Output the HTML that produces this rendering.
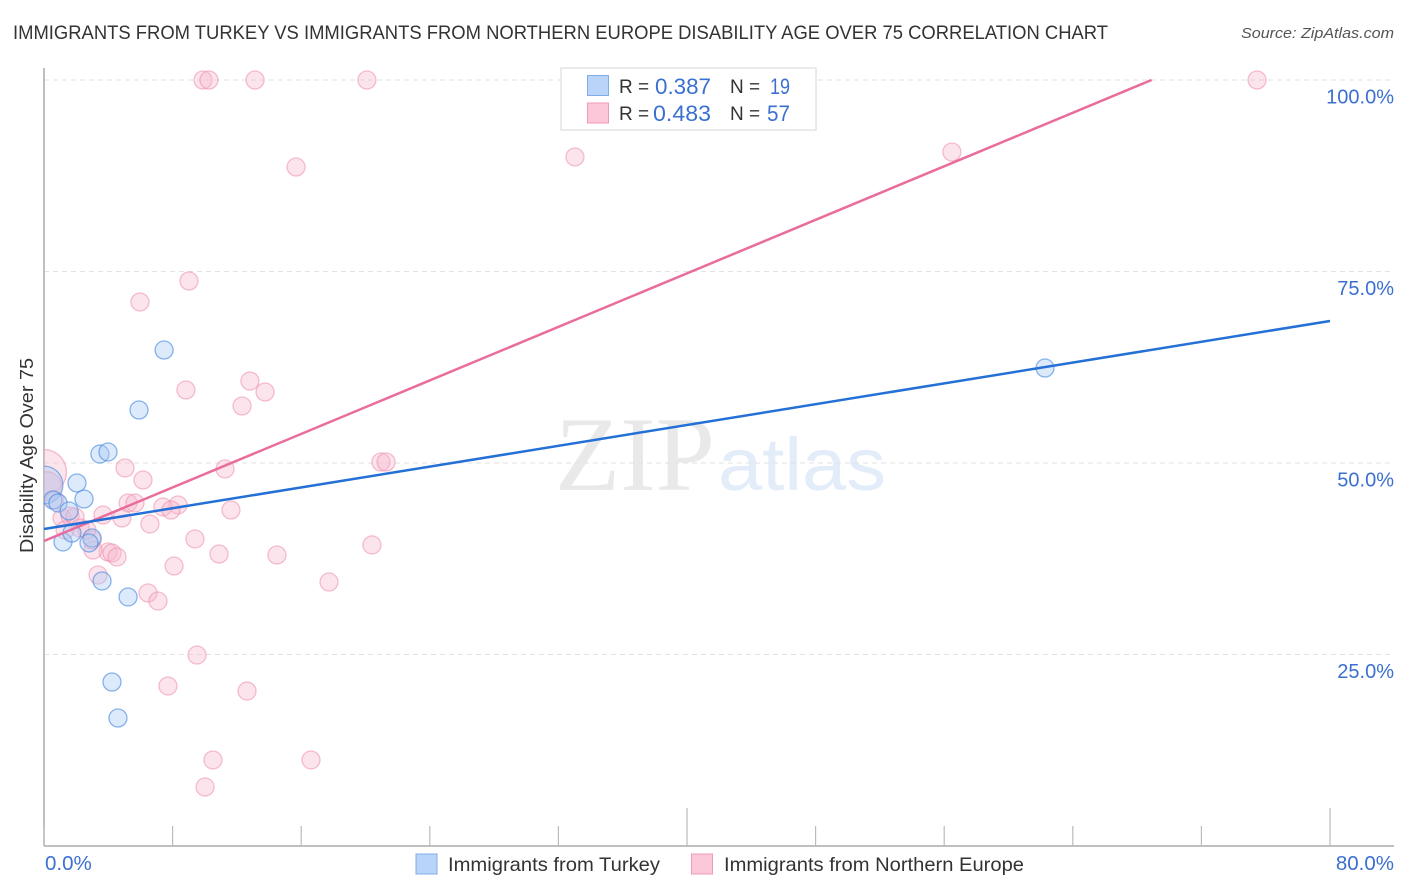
<!DOCTYPE html>
<html lang="en">
<head>
<meta charset="utf-8">
<title>Immigrants from Turkey vs Immigrants from Northern Europe Disability Age Over 75 Correlation Chart</title>
<style>
html,body{margin:0;padding:0;background:#fff;width:1406px;height:892px;overflow:hidden}
svg{display:block;font-family:"Liberation Sans",sans-serif}
</style>
</head>
<body>
<svg id="chart" xmlns="http://www.w3.org/2000/svg" width="1406" height="892" viewBox="0 0 1406 892">
<defs><clipPath id="plot-clip"><rect x="44" y="0" width="1350" height="846"/></clipPath></defs>
<rect width="1406" height="892" fill="#fff"/>
<text x="13" y="39" font-size="19" fill="#333" textLength="1095" lengthAdjust="spacingAndGlyphs">IMMIGRANTS FROM TURKEY VS IMMIGRANTS FROM NORTHERN EUROPE DISABILITY AGE OVER 75 CORRELATION CHART</text>
<text x="1241" y="38" font-size="15" font-style="italic" fill="#555" textLength="153" lengthAdjust="spacingAndGlyphs">Source: ZipAtlas.com</text>
<g>
<text x="555" y="490" font-family="'Liberation Serif',serif" font-size="106" fill="#e9e9e9" textLength="160" lengthAdjust="spacingAndGlyphs">ZIP</text>
<text x="718" y="490" font-size="74" fill="#e3ecf9" textLength="168" lengthAdjust="spacingAndGlyphs">atlas</text>
</g>
<g id="grid"></g>
<g id="axes"></g>
<g id="points" clip-path="url(#plot-clip)"></g>
<g id="trends"></g>
<text transform="translate(33,553) rotate(-90)" font-size="18" fill="#333" textLength="195" lengthAdjust="spacingAndGlyphs">Disability Age Over 75</text>
<g>
<rect x="561" y="68" width="255" height="62" fill="#fff" stroke="#e4e4e4" stroke-width="1.5"/>
<rect x="587.5" y="75.5" width="21" height="20" fill="#b9d4f8" stroke="#7fade8" stroke-width="1"/>
<rect x="587.5" y="103" width="21" height="20" fill="#fcc8d9" stroke="#f09ab8" stroke-width="1"/>
<text x="619" y="93" font-size="19" fill="#333">R =</text>
<text x="655" y="94" font-size="22" fill="#3b70d0" textLength="56" lengthAdjust="spacingAndGlyphs">0.387</text>
<text x="730" y="93" font-size="19" fill="#333">N =</text>
<text x="770" y="94" font-size="22" fill="#3b70d0" textLength="20" lengthAdjust="spacingAndGlyphs">19</text>
<text x="619" y="120" font-size="19" fill="#333">R =</text>
<text x="653" y="121" font-size="22" fill="#3b70d0" textLength="58" lengthAdjust="spacingAndGlyphs">0.483</text>
<text x="730" y="120" font-size="19" fill="#333">N =</text>
<text x="767" y="121" font-size="22" fill="#3b70d0" textLength="23" lengthAdjust="spacingAndGlyphs">57</text>
</g>
<g>
<rect x="416" y="854" width="21" height="20" fill="#b9d4f8" stroke="#7fade8" stroke-width="1"/>
<text x="448" y="871" font-size="19.5" fill="#333" textLength="212" lengthAdjust="spacingAndGlyphs">Immigrants from Turkey</text>
<rect x="691.5" y="854" width="21" height="20" fill="#fcc8d9" stroke="#f09ab8" stroke-width="1"/>
<text x="724" y="871" font-size="19.5" fill="#333" textLength="300" lengthAdjust="spacingAndGlyphs">Immigrants from Northern Europe</text>
</g>
</svg>
<script>
const yTickValues = [100, 75, 50, 25];
const yTickLabels = ["100.0%", "75.0%", "50.0%", "25.0%"];
const xTickValues = [0, 8, 16, 24, 32, 40, 48, 56, 64, 72, 80];
const xEndLabels = ["0.0%", "80.0%"];
const turkeyX = [0.0, 0.56, 0.87, 1.56, 1.18, 1.74, 2.99, 2.80, 2.49, 2.05, 3.48, 3.98, 3.61, 5.23, 5.91, 7.47, 4.23, 4.60, 62.27];
const turkeyY = [47.13, 45.17, 44.78, 43.73, 39.69, 40.86, 40.21, 39.56, 45.30, 47.39, 51.17, 51.44, 34.60, 32.51, 56.92, 64.75, 21.41, 16.71, 62.40];
const turkeyWeight = [4.4, 1, 1, 1, 1, 1, 1, 1, 1, 1, 1, 1, 1, 1, 1, 1, 1, 1, 1];
const europeX = [9.89, 10.26, 13.13, 20.09, 75.46, 15.68, 33.03, 56.48, 9.02, 5.97, 8.83, 12.81, 13.75, 12.32, 20.96, 21.28, 5.04, 6.16, 11.26, 5.23, 5.66, 8.34, 7.40, 7.90, 11.63, 3.67, 4.85, 6.59, 9.39, 20.40, 10.89, 14.49, 8.09, 17.73, 6.47, 7.09, 9.52, 7.71, 12.63, 10.51, 16.61, 10.02, 3.36, 3.98, 4.23, 4.54, 3.05, 2.99, 0, 0.19, 1.12, 1.62, 1.93, 1.31, 2.24, 2.67, 0.68];
const europeY = [100, 100, 100, 100, 100, 88.64, 89.95, 90.60, 73.76, 71.02, 59.53, 60.70, 59.27, 57.44, 50.13, 50.13, 49.35, 47.78, 49.22, 44.78, 44.78, 44.52, 44.26, 43.86, 43.86, 43.21, 42.82, 42.04, 40.08, 39.30, 38.12, 37.99, 36.55, 34.46, 33.03, 31.98, 24.93, 20.89, 20.23, 11.23, 11.23, 7.70, 35.38, 38.38, 38.25, 37.73, 38.64, 39.95, 48.83, 47.0, 42.82, 43.08, 42.95, 41.25, 41.51, 41.25, 45.17];
const europeWeight = [1, 1, 1, 1, 1, 1, 1, 1, 1, 1, 1, 1, 1, 1, 1, 1, 1, 1, 1, 1, 1, 1, 1, 1, 1, 1, 1, 1, 1, 1, 1, 1, 1, 1, 1, 1, 1, 1, 1, 1, 1, 1, 1, 1, 1, 1, 1, 1, 6.2, 2.5, 1, 1, 1, 1, 1, 1, 1];
const turkeyTrendX = [0, 80];
const turkeyTrendY = [41.38, 68.54];
const europeTrendX = [0, 68.9];
const europeTrendY = [39.82, 100];

const NS = "http://www.w3.org/2000/svg";
function xScale(v) { return 44 + v * 16.075; }
function yScale(v) { return 80 + (100 - v) * 7.66; }
function rScale(w) { return 9 * Math.sqrt(w); }
function make(parent, tag, attrs, text) {
  const el = document.createElementNS(NS, tag);
  for (const k in attrs) el.setAttribute(k, attrs[k]);
  if (text !== undefined) el.textContent = text;
  document.getElementById(parent).appendChild(el);
  return el;
}

yTickValues.forEach(function (v, i) {
  const line = make("grid", "line", { x1: 44, x2: 1394, y1: yScale(v), y2: yScale(v), stroke: "#e2e2e2", "stroke-width": 1, "stroke-dasharray": "5 4" });
  
  
  const label = make("axes", "text", { x: 1394, y: yScale(v) + 23.5, "font-size": 20, fill: "#3b70d0", "text-anchor": "end" }, yTickLabels[i]);
  
  
});

const yAxis = make("axes", "line", { x1: 44, x2: 44, y1: 68, y2: 846, stroke: "#aaa", "stroke-width": 1.5 });


const xAxis = make("axes", "line", { x1: 44, x2: 1394, y1: 846, y2: 846, stroke: "#aaa", "stroke-width": 1.5 });



xTickValues.forEach(function (v, i) {
  const long = i === 5 || i === 10;
  const tick = make("axes", "line", { x1: xScale(v), x2: xScale(v), y1: long ? 808 : 826, y2: 846, stroke: "#bbb", "stroke-width": 1.2 });
  
  
});

const xLabelStart = make("axes", "text", { x: 45, y: 870, "font-size": 20.5, fill: "#3b70d0" }, xEndLabels[0]);


const xLabelEnd = make("axes", "text", { x: 1394, y: 870, "font-size": 20.5, fill: "#3b70d0", "text-anchor": "end" }, xEndLabels[1]);



europeX.forEach(function (x, i) {
  const c = make("points", "circle", { cx: xScale(x), cy: yScale(europeY[i]), r: rScale(europeWeight[i]), fill: "#f8b8cd", "fill-opacity": 0.38, stroke: "#ec8cab", "stroke-opacity": 0.55, "stroke-width": 1.3 });
  
  
});
turkeyX.forEach(function (x, i) {
  const c = make("points", "circle", { cx: xScale(x), cy: yScale(turkeyY[i]), r: rScale(turkeyWeight[i]), fill: "#a9cbf5", "fill-opacity": 0.4, stroke: "#3f86e0", "stroke-opacity": 0.6, "stroke-width": 1.3 });
  
  
});

const trendEurope = make("trends", "line", { x1: xScale(europeTrendX[0]), y1: yScale(europeTrendY[0]), x2: xScale(europeTrendX[1]), y2: yScale(europeTrendY[1]), stroke: "#ea6c9c", "stroke-width": 2.5 });


const trendTurkey = make("trends", "line", { x1: xScale(turkeyTrendX[0]), y1: yScale(turkeyTrendY[0]), x2: xScale(turkeyTrendX[1]), y2: yScale(turkeyTrendY[1]), stroke: "#2470d6", "stroke-width": 2.5 });


</script>
</body>
</html>
